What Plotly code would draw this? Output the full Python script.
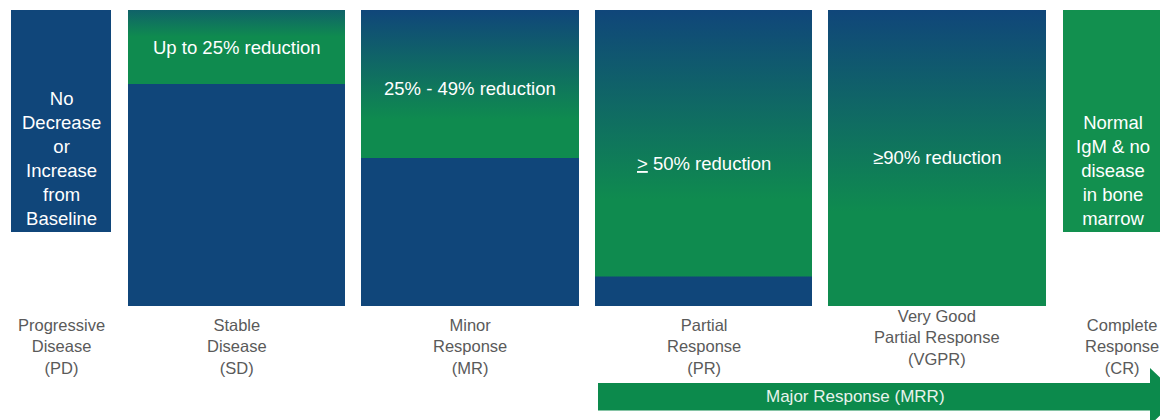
import plotly.graph_objects as go

# ---------------- data ----------------
categories = [
    "Progressive<br>Disease<br>(PD)",
    "Stable<br>Disease<br>(SD)",
    "Minor<br>Response<br>(MR)",
    "Partial<br>Response<br>(PR)",
    "Very Good<br>Partial Response<br>(VGPR)",
    "Complete<br>Response<br>(CR)",
]
criteria = [
    "No<br>Decrease<br>or<br>Increase<br>from<br>Baseline",
    "Up to 25% reduction",
    "25% - 49% reduction",
    "<u>></u> 50% reduction",
    "≥90% reduction",
    "Normal<br>IgM & no<br>disease<br>in bone<br>marrow",
]
base_level = [25, 0, 0, 0, 0, 25]       # where each box starts
remaining = [75, 75, 50, 10, 0, 0]      # blue part (disease remaining)
reduction = [0, 25, 50, 90, 100, 75]    # green part (reduction)
reduction_kind = ["none", "gradient", "gradient", "gradient", "gradient", "solid"]
major_label = "Major Response (MRR)"

# ---------------- style / layout ----------------
W, H = 1160, 420
PX_TOP, PX_BASE = 10, 306           # pixel rows of value 100 and value 0
SCALE = (PX_BASE - PX_TOP) / 100.0


def pix2y(p):
    return 100 - (p - PX_TOP) / SCALE


BLUE = "#10467a"
GREEN = "#0f8b4f"
GREEN_SOLID = "#12904f"
ARROW_GREEN = "#0c8a4c"
GRAY = "#5a5a5a"
FONT = "Liberation Sans, Arial, sans-serif"

lefts = [11, 128, 361, 595, 828, 1063]
widths = [100, 217, 218, 217, 218, 100]
centers = [l + w / 2 for l, w in zip(lefts, widths)]
# gradient start/stop offsets relative to segment top (value units)
grad_offsets = [None, (-9, 6), (-37, 0), (-64, 0), (-68, 0), None]
crit_text_px = [158.5, 47, 88, 163, 157, 170]
cat_text_px = [346, 346, 346, 346, 337, 346]
cat_x = centers[:5] + [1122]

fig = go.Figure()

# blue (remaining) bars
fig.add_trace(go.Bar(
    x=centers, y=remaining, base=base_level, width=widths,
    marker=dict(color=BLUE, line=dict(width=0)),
    hoverinfo="skip", showlegend=False,
))

# solid green bars
solid_idx = [i for i, k in enumerate(reduction_kind) if k == "solid"]
fig.add_trace(go.Bar(
    x=[centers[i] for i in solid_idx],
    y=[reduction[i] for i in solid_idx],
    base=[base_level[i] + remaining[i] for i in solid_idx],
    width=[widths[i] for i in solid_idx],
    marker=dict(color=GREEN_SOLID, line=dict(width=0)),
    hoverinfo="skip", showlegend=False,
))

# gradient green segments
for i, k in enumerate(reduction_kind):
    if k != "gradient":
        continue
    l, r = lefts[i], lefts[i] + widths[i]
    b = base_level[i] + remaining[i]
    t = b + reduction[i]
    lo, hi = grad_offsets[i]
    fig.add_trace(go.Scatter(
        x=[l, r, r, l, l], y=[b, b, t, t, b],
        mode="lines", line=dict(width=0), fill="toself",
        fillgradient=dict(type="vertical",
                          colorscale=[[0, GREEN], [1, BLUE]],
                          start=t + lo, stop=t + hi),
        hoverinfo="skip", showlegend=False,
    ))

annotations = []
for i in range(len(categories)):
    annotations.append(dict(
        x=centers[i], y=pix2y(crit_text_px[i]), xref="x", yref="y",
        text=criteria[i], showarrow=False,
        font=dict(family=FONT, size=18.5, color="white"),
        xanchor="center", yanchor="middle", align="center",
    ))
    annotations.append(dict(
        x=cat_x[i], y=pix2y(cat_text_px[i]), xref="x", yref="y",
        text=categories[i], showarrow=False,
        font=dict(family=FONT, size=16.5, color=GRAY),
        xanchor="center", yanchor="middle", align="center",
    ))

# Major response arrow, spanning PR -> CR
ax0 = lefts[3] + 3
ax_head = 1150
ax_tip = 1180
y_top, y_bot = pix2y(383), pix2y(410.5)
yh_top, yh_bot = pix2y(368), pix2y(425)
y_mid = (y_top + y_bot) / 2
path = (f"M {ax0},{y_top} L {ax_head},{y_top} L {ax_head},{yh_top} "
        f"L {ax_tip},{y_mid} L {ax_head},{yh_bot} L {ax_head},{y_bot} "
        f"L {ax0},{y_bot} Z")
shapes = [dict(type="path", path=path, xref="x", yref="y",
               fillcolor=ARROW_GREEN, line=dict(width=0), layer="above")]
annotations.append(dict(
    x=855, y=y_mid, xref="x", yref="y", text=major_label, showarrow=False,
    font=dict(family=FONT, size=17, color="#e8f3ec"),
    xanchor="center", yanchor="middle",
))

fig.update_layout(
    width=W, height=H,
    margin=dict(l=0, r=0, t=0, b=0),
    paper_bgcolor="white", plot_bgcolor="white",
    barmode="overlay", bargap=0,
    xaxis=dict(range=[0, W], visible=False, fixedrange=True),
    yaxis=dict(range=[pix2y(H), pix2y(0)], visible=False, fixedrange=True),
    annotations=annotations, shapes=shapes,
    showlegend=False,
)

fig.write_html("out.html", config={"displayModeBar": False})
